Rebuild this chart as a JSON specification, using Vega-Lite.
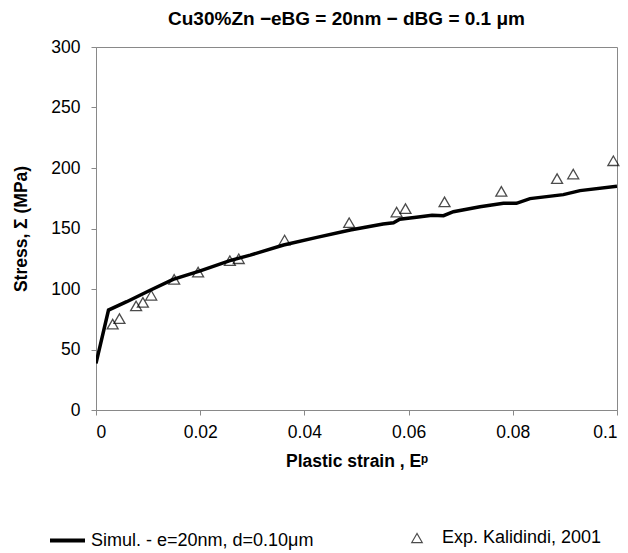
{
  "$schema": "https://vega.github.io/schema/vega-lite/v6.json",
  "autosize": {"type": "none"},
  "padding": {"left": 96, "top": 47, "right": 11, "bottom": 143},
  "width": 521,
  "height": 363,
  "background": "white",
  "title": {"text": "Cu30%Zn −eBG = 20nm − dBG = 0.1 μm", "font": "Liberation Sans", "fontSize": 19, "fontWeight": "bold", "color": "black", "offset": 9, "dx": -10},
  "config": {
    "font": "Liberation Sans",
    "view": {"stroke": "#898989", "strokeWidth": 1},
    "axis": {"grid": false, "domainColor": "#898989", "tickColor": "#898989", "tickSize": 5, "labelFont": "Liberation Sans", "labelFontSize": 17.5, "labelColor": "black", "titleFont": "Liberation Sans", "titleFontSize": 17.5, "titleFontWeight": "bold", "titleColor": "black"},
    "legend": {"labelFont": "Liberation Sans", "labelFontSize": 18, "labelColor": "black", "labelLimit": 400}
  },
  "datasets": {
    "sim": [
      {"x": 0.0, "y": 38.5, "s": "Simul. - e=20nm, d=0.10μm"},
      {"x": 0.0024, "y": 82.6, "s": "Simul. - e=20nm, d=0.10μm"},
      {"x": 0.0059, "y": 89.5, "s": "Simul. - e=20nm, d=0.10μm"},
      {"x": 0.0104, "y": 99, "s": "Simul. - e=20nm, d=0.10μm"},
      {"x": 0.0148, "y": 108, "s": "Simul. - e=20nm, d=0.10μm"},
      {"x": 0.020, "y": 115, "s": "Simul. - e=20nm, d=0.10μm"},
      {"x": 0.0257, "y": 123.4, "s": "Simul. - e=20nm, d=0.10μm"},
      {"x": 0.0296, "y": 128, "s": "Simul. - e=20nm, d=0.10μm"},
      {"x": 0.036, "y": 136.4, "s": "Simul. - e=20nm, d=0.10μm"},
      {"x": 0.0424, "y": 142.7, "s": "Simul. - e=20nm, d=0.10μm"},
      {"x": 0.0488, "y": 148.8, "s": "Simul. - e=20nm, d=0.10μm"},
      {"x": 0.0551, "y": 153.7, "s": "Simul. - e=20nm, d=0.10μm"},
      {"x": 0.0571, "y": 154.8, "s": "Simul. - e=20nm, d=0.10μm"},
      {"x": 0.0583, "y": 157.6, "s": "Simul. - e=20nm, d=0.10μm"},
      {"x": 0.0615, "y": 159.3, "s": "Simul. - e=20nm, d=0.10μm"},
      {"x": 0.0645, "y": 161, "s": "Simul. - e=20nm, d=0.10μm"},
      {"x": 0.0667, "y": 160.6, "s": "Simul. - e=20nm, d=0.10μm"},
      {"x": 0.0686, "y": 163.9, "s": "Simul. - e=20nm, d=0.10μm"},
      {"x": 0.0737, "y": 168, "s": "Simul. - e=20nm, d=0.10μm"},
      {"x": 0.0782, "y": 170.8, "s": "Simul. - e=20nm, d=0.10μm"},
      {"x": 0.0807, "y": 170.8, "s": "Simul. - e=20nm, d=0.10μm"},
      {"x": 0.0833, "y": 174.7, "s": "Simul. - e=20nm, d=0.10μm"},
      {"x": 0.0897, "y": 178, "s": "Simul. - e=20nm, d=0.10μm"},
      {"x": 0.0929, "y": 181.3, "s": "Simul. - e=20nm, d=0.10μm"},
      {"x": 0.1, "y": 185, "s": "Simul. - e=20nm, d=0.10μm"}
    ],
    "exp": [
      {"x": 0.0032, "y": 71, "s": "Exp. Kalidindi, 2001"},
      {"x": 0.0045, "y": 75.5, "s": "Exp. Kalidindi, 2001"},
      {"x": 0.0077, "y": 86, "s": "Exp. Kalidindi, 2001"},
      {"x": 0.0090, "y": 89, "s": "Exp. Kalidindi, 2001"},
      {"x": 0.0106, "y": 94.8, "s": "Exp. Kalidindi, 2001"},
      {"x": 0.0150, "y": 108, "s": "Exp. Kalidindi, 2001"},
      {"x": 0.0196, "y": 114, "s": "Exp. Kalidindi, 2001"},
      {"x": 0.0257, "y": 123.4, "s": "Exp. Kalidindi, 2001"},
      {"x": 0.0274, "y": 125, "s": "Exp. Kalidindi, 2001"},
      {"x": 0.0362, "y": 140.5, "s": "Exp. Kalidindi, 2001"},
      {"x": 0.0486, "y": 154.8, "s": "Exp. Kalidindi, 2001"},
      {"x": 0.0577, "y": 163.6, "s": "Exp. Kalidindi, 2001"},
      {"x": 0.0594, "y": 166.4, "s": "Exp. Kalidindi, 2001"},
      {"x": 0.0669, "y": 172, "s": "Exp. Kalidindi, 2001"},
      {"x": 0.0778, "y": 180.7, "s": "Exp. Kalidindi, 2001"},
      {"x": 0.0885, "y": 191.2, "s": "Exp. Kalidindi, 2001"},
      {"x": 0.0916, "y": 195, "s": "Exp. Kalidindi, 2001"},
      {"x": 0.0993, "y": 206, "s": "Exp. Kalidindi, 2001"}
    ]
  },
  "layer": [
    {
      "data": {"name": "sim"},
      "mark": {"type": "line", "strokeWidth": 3.5, "clip": true},
      "encoding": {
        "x": {"field": "x", "type": "quantitative", "scale": {"domain": [0, 0.1], "nice": false}, "axis": {"values": [0, 0.02, 0.04, 0.06, 0.08, 0.1], "format": "~g", "title": "Plastic strain , Eᵖ", "labelPadding": 8.5, "titlePadding": 11}},
        "y": {"field": "y", "type": "quantitative", "scale": {"domain": [0, 300], "nice": false}, "axis": {"values": [0, 50, 100, 150, 200, 250, 300], "title": "Stress, Σ (MPa)", "labelPadding": 11, "titlePadding": 20}},
        "color": {"field": "s", "type": "nominal", "scale": {"range": ["black"]}, "legend": {"title": null, "orient": "none", "legendX": -48, "legendY": 474, "symbolType": "stroke", "symbolSize": 1225, "symbolStrokeWidth": 4, "labelOffset": 4}}
      }
    },
    {
      "data": {"name": "exp"},
      "mark": {"type": "point", "filled": false, "color": "black", "strokeWidth": 1.3, "size": 120},
      "encoding": {
        "x": {"field": "x", "type": "quantitative"},
        "y": {"field": "y", "type": "quantitative"},
        "shape": {"field": "s", "type": "nominal", "scale": {"range": ["triangle-up"]}, "legend": {"title": null, "orient": "none", "legendX": 312, "legendY": 482, "symbolSize": 110, "symbolStrokeColor": "black", "symbolStrokeWidth": 1.2, "labelOffset": 16}}
      }
    }
  ]
}
